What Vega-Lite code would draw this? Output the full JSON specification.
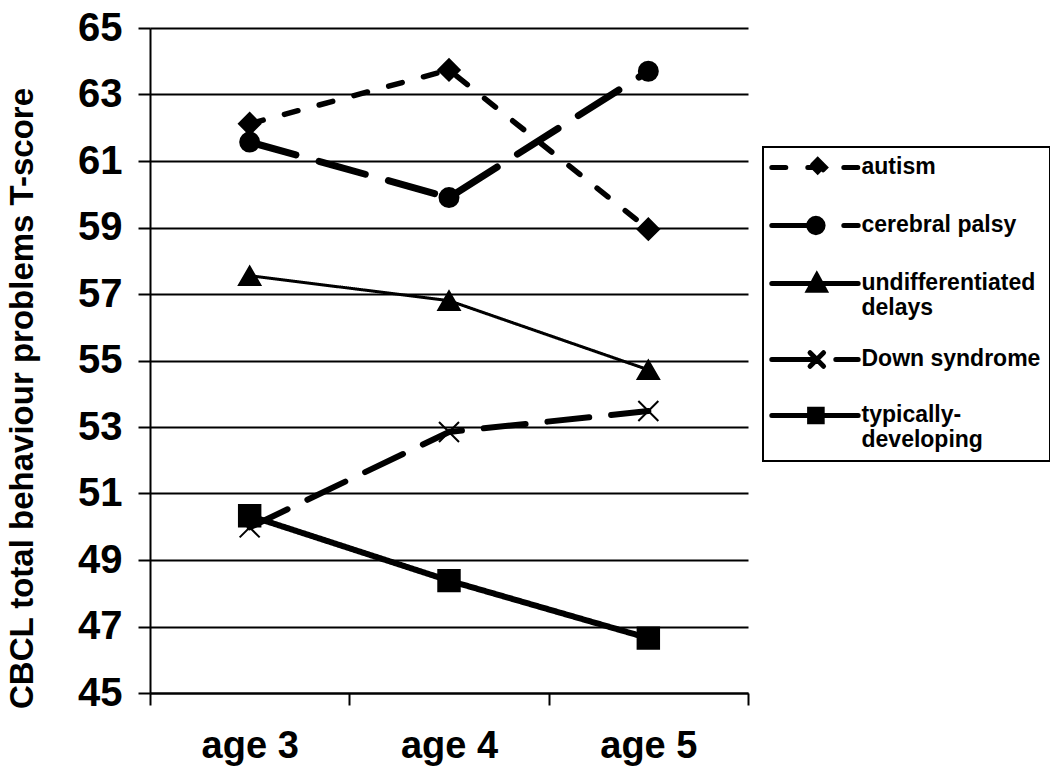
{
  "$schema": "https://vega.github.io/schema/vega-lite/v6.json",
  "width": 598,
  "height": 665,
  "autosize": "none",
  "padding": {"left": 150, "top": 28, "right": 302, "bottom": 80},
  "background": "white",
  "config": {"font": "Liberation Sans", "view": {"stroke": null}},
  "data": {
    "values": [
      {"group": "autism", "age": "age 3", "score": 62.12},
      {"group": "autism", "age": "age 4", "score": 63.74},
      {"group": "autism", "age": "age 5", "score": 58.95},
      {"group": "cerebral palsy", "age": "age 3", "score": 61.57},
      {"group": "cerebral palsy", "age": "age 4", "score": 59.9},
      {"group": "cerebral palsy", "age": "age 5", "score": 63.7},
      {"group": "undifferentiated delays", "age": "age 3", "score": 57.55},
      {"group": "undifferentiated delays", "age": "age 4", "score": 56.8},
      {"group": "undifferentiated delays", "age": "age 5", "score": 54.72},
      {"group": "Down syndrome", "age": "age 3", "score": 49.98},
      {"group": "Down syndrome", "age": "age 4", "score": 52.85},
      {"group": "Down syndrome", "age": "age 5", "score": 53.48},
      {"group": "typically-developing", "age": "age 3", "score": 50.33},
      {"group": "typically-developing", "age": "age 4", "score": 48.38},
      {"group": "typically-developing", "age": "age 5", "score": 46.65}
    ]
  },
  "encoding": {
    "x": {
      "field": "age",
      "type": "nominal",
      "scale": {"domain": ["age 3", "age 4", "age 5"], "paddingInner": 0, "paddingOuter": 0},
      "axis": {
        "title": null,
        "labelAngle": 0,
        "tickBand": "extent",
        "domainColor": "black",
        "domainWidth": 2,
        "tickColor": "black",
        "tickWidth": 2,
        "tickSize": 12,
        "labelFont": "Liberation Sans",
        "labelFontWeight": "bold",
        "labelFontSize": 38,
        "labelColor": "black",
        "labelPadding": 22,
        "grid": false
      }
    },
    "y": {
      "field": "score",
      "type": "quantitative",
      "scale": {"domain": [45, 65], "nice": false, "zero": false},
      "axis": {
        "title": "CBCL total behaviour problems T-score",
        "titleFont": "Liberation Sans",
        "titleFontWeight": "bold",
        "titleFontSize": 33,
        "titleColor": "black",
        "titlePadding": 38,
        "titleY": 370,
        "values": [45, 47, 49, 51, 53, 55, 57, 59, 61, 63, 65],
        "domainColor": "black",
        "domainWidth": 2,
        "tickColor": "black",
        "tickWidth": 2,
        "tickSize": 12,
        "grid": true,
        "gridColor": "black",
        "gridWidth": 2,
        "gridOpacity": 1,
        "labelFont": "Liberation Sans",
        "labelFontWeight": "bold",
        "labelFontSize": 40,
        "labelColor": "black",
        "labelPadding": 16
      }
    }
  },
  "layer": [
    {
      "mark": {"type": "line", "color": "black", "strokeCap": "round", "strokeJoin": "round"},
      "encoding": {
        "strokeDash": {
          "field": "group",
          "type": "nominal",
          "scale": {
            "domain": ["autism", "cerebral palsy", "undifferentiated delays", "Down syndrome", "typically-developing"],
            "range": [[14, 22], [48, 24], [1, 0], [42, 22], [1, 0]]
          },
          "legend": {
            "title": null,
            "orient": "none",
            "legendX": 613,
            "legendY": 119,
            "direction": "vertical",
            "strokeColor": "black",
            "padding": 9,
            "symbolType": "M-4.8,0H4.8",
            "symbolSize": 324,
            "symbolStrokeColor": "black",
            "symbolStrokeWidth": 5,
            "symbolOffset": 31.5,
            "labelFont": "Liberation Sans",
            "labelFontWeight": "bold",
            "labelFontSize": 23,
            "labelColor": "black",
            "labelLimit": 400,
            "labelOffset": 35,
            "labelBaseline": "top",
            "rowPadding": 22,
            "labelExpr": "datum.value === 'undifferentiated delays' ? ['undifferentiated', 'delays'] : datum.value === 'typically-developing' ? ['typically-', 'developing'] : datum.label",
            "encode": {
              "legend": {"update": {"strokeWidth": {"value": 2}}},
              "symbols": {
                "update": {
                  "strokeCap": {"value": "round"},
                  "fill": {"value": "black"},
                  "stroke": {"value": "black"},
                  "opacity": {"value": 1},
                  "shape": {"signal": "datum.value === 'autism' ? 'M-4.8,0H4.8M0.3,-0.85L1.15,0L0.3,0.85L-0.55,0Z' : datum.value === 'cerebral palsy' ? 'M-4.8,0H4.8M0.9,0A0.8,0.8,0,1,1,-0.7,0A0.8,0.8,0,1,1,0.9,0Z' : datum.value === 'undifferentiated delays' ? 'M-4.8,0H4.8M0.2,-0.9L1.1,0.75L-0.7,0.75Z' : datum.value === 'Down syndrome' ? 'M-4.8,0H4.8M-0.55,-0.75L0.95,0.75M0.95,-0.75L-0.55,0.75' : 'M-4.8,0H4.8M-0.6,-0.7H0.8V0.7H-0.6Z'"}
                }
              },
              "labels": {"update": {"dy": {"value": -12}}}
            }
          }
        },
        "strokeWidth": {
          "condition": [
            {"test": "datum.group === 'autism'", "value": 5.5},
            {"test": "datum.group === 'cerebral palsy'", "value": 7},
            {"test": "datum.group === 'undifferentiated delays'", "value": 3},
            {"test": "datum.group === 'Down syndrome'", "value": 6}
          ],
          "value": 6
        }
      }
    },
    {
      "transform": [{"filter": "datum.group === 'autism'"}],
      "mark": {"type": "point", "shape": "diamond", "filled": true, "color": "black", "stroke": "black", "strokeWidth": 2, "opacity": 1, "size": 460}
    },
    {
      "transform": [{"filter": "datum.group === 'cerebral palsy'"}],
      "mark": {"type": "point", "shape": "circle", "filled": true, "color": "black", "stroke": "black", "strokeWidth": 2, "opacity": 1, "size": 360}
    },
    {
      "transform": [{"filter": "datum.group === 'undifferentiated delays'"}],
      "mark": {"type": "point", "shape": "triangle-up", "filled": true, "color": "black", "stroke": "black", "strokeWidth": 2, "opacity": 1, "size": 460}
    },
    {
      "transform": [{"filter": "datum.group === 'Down syndrome'"}],
      "mark": {"type": "point", "shape": "M-1,-1L1,1M1,-1L-1,1", "filled": false, "color": "black", "stroke": "black", "strokeWidth": 2, "opacity": 1, "size": 400}
    },
    {
      "transform": [{"filter": "datum.group === 'typically-developing'"}],
      "mark": {"type": "point", "shape": "square", "filled": true, "color": "black", "stroke": "black", "strokeWidth": 2, "opacity": 1, "size": 460}
    }
  ]
}
